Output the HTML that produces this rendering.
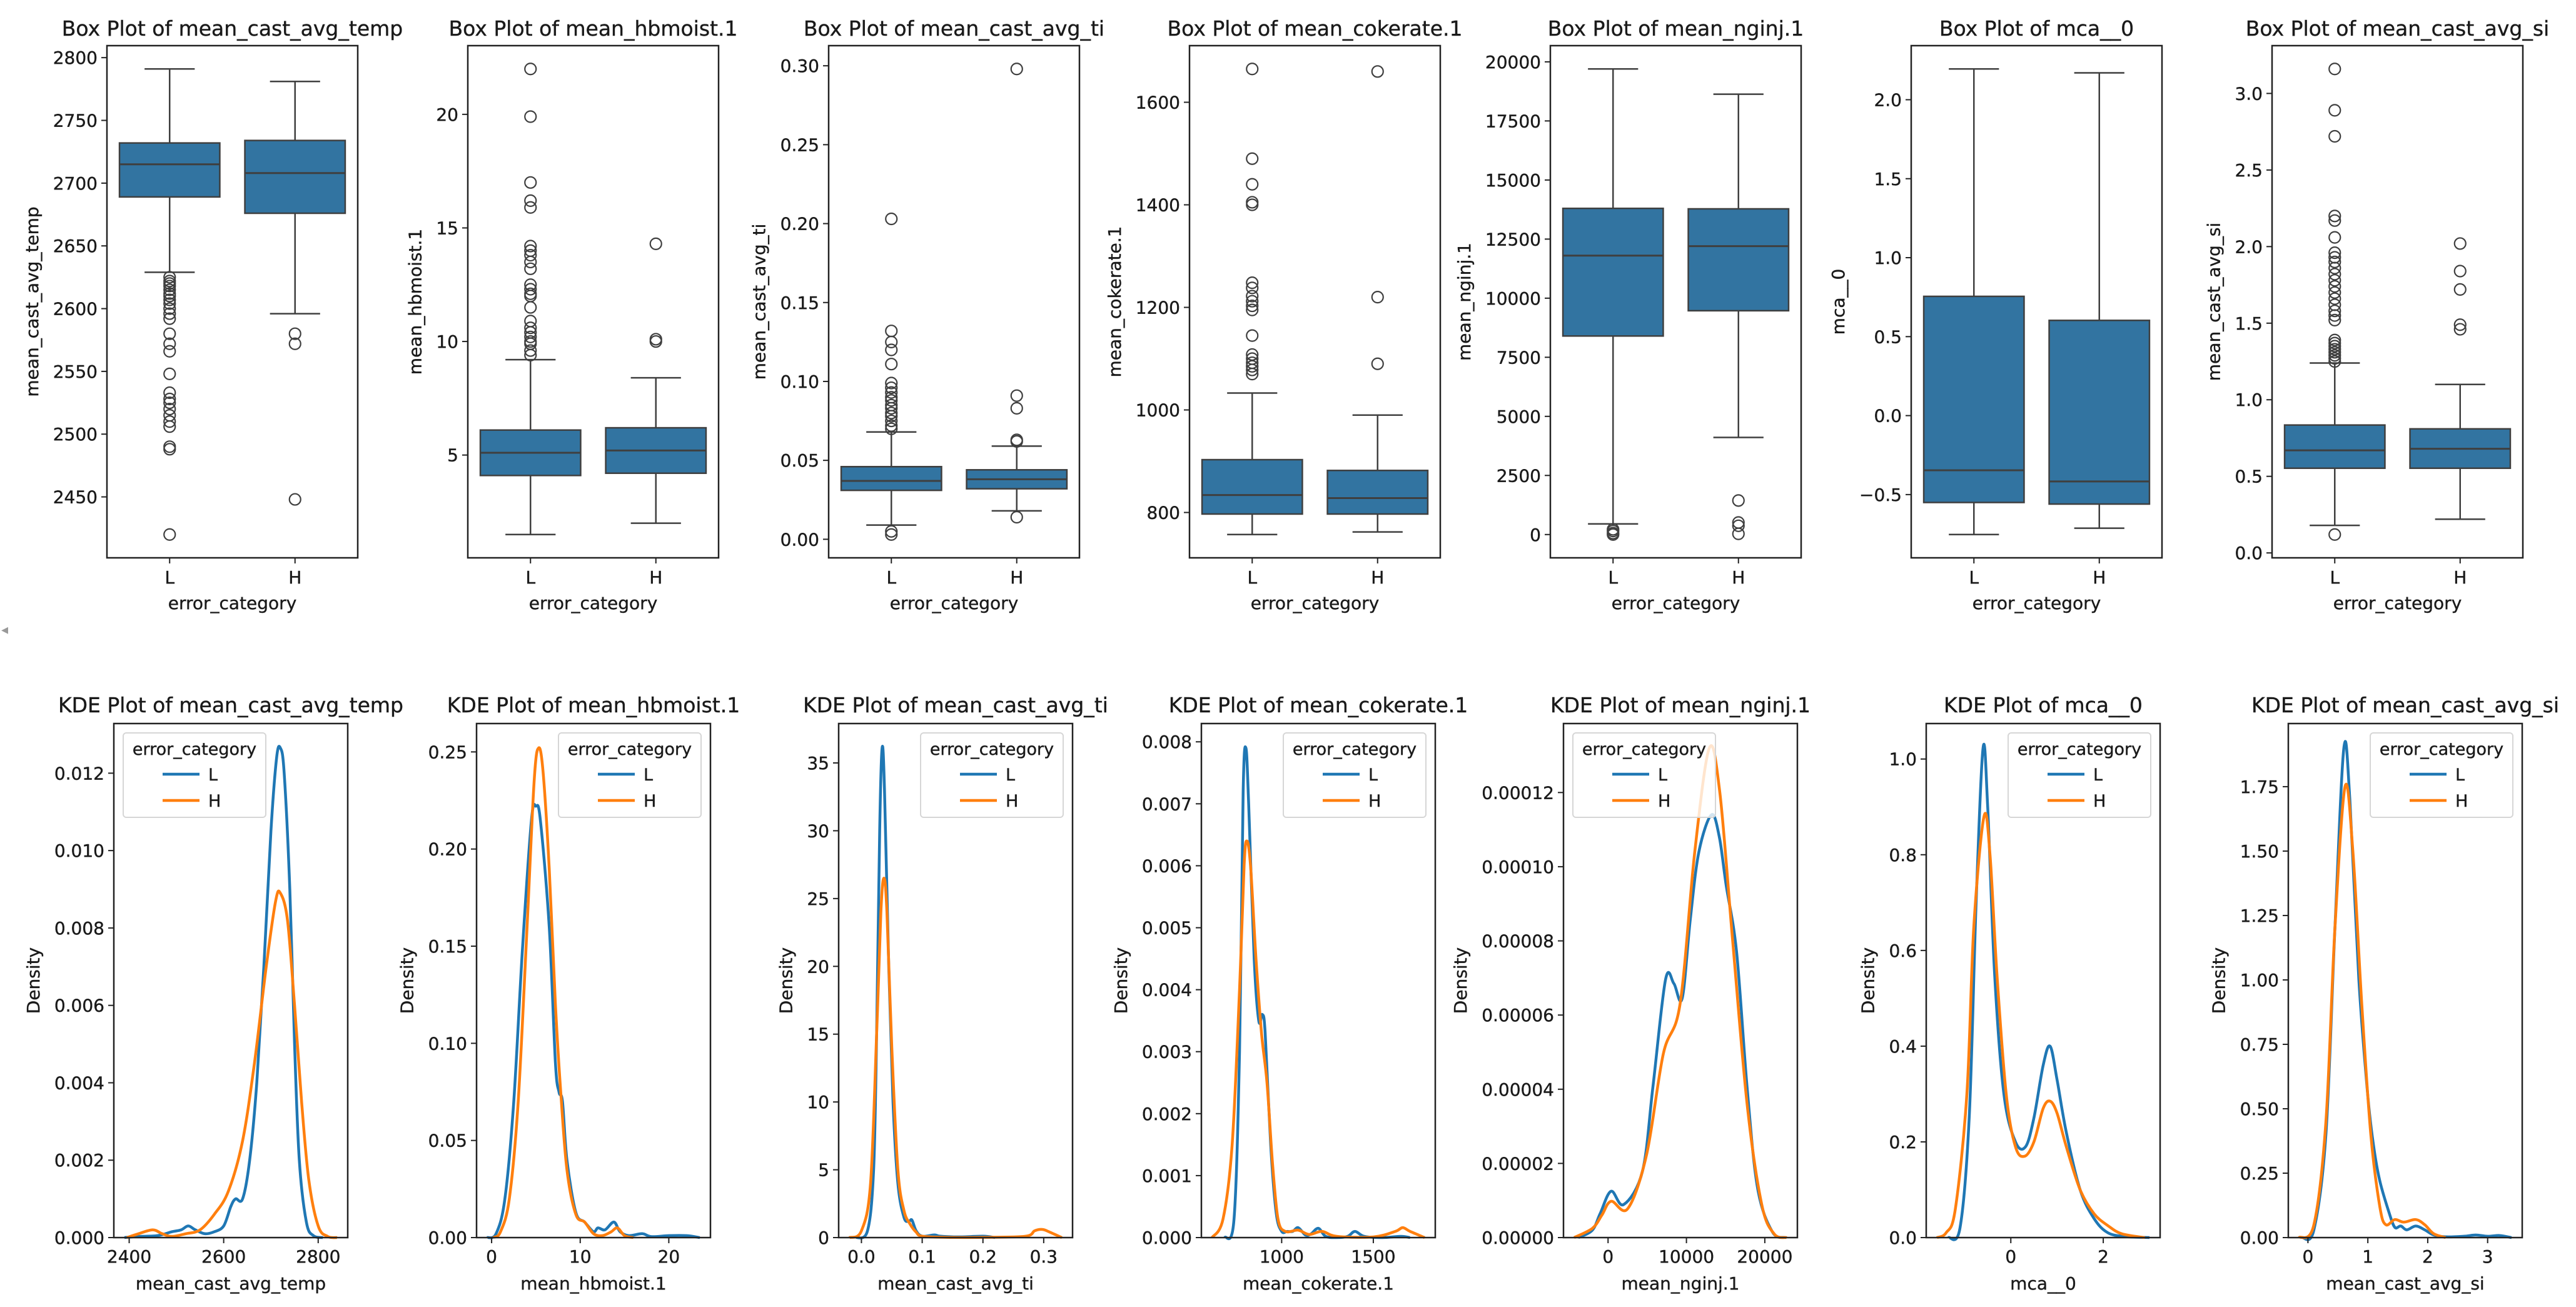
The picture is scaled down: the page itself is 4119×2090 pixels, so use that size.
<!DOCTYPE html>
<html><head><meta charset="utf-8"><style>
html,body{margin:0;padding:0;background:#fff;}
svg{display:block;font-family:"DejaVu Sans","Liberation Sans",sans-serif;}
svg text{stroke:#1a1a1a;stroke-width:0.4px;}
</style></head><body>
<svg id="fig" width="4119" height="2090" viewBox="0 0 4119 2090" xmlns="http://www.w3.org/2000/svg">
<rect width="4119" height="2090" fill="#fff"/>
<text x="2" y="1014" font-size="22" fill="#999" style="stroke:none">◂</text>
</svg>
<script>
// ===== Box plot data: [whiskerLow, Q1, median, Q3, whiskerHigh] =====
const boxCategories = ["L", "H"];
const boxTempL = [2629, 2689, 2715, 2732, 2791];
const boxTempH = [2596, 2676, 2708, 2734, 2781];
const boxTempLOut = [2625,2622,2620,2618,2615,2612,2610,2607,2604,2600,2596,2592,2580,2572,2566,2548,2533,2528,2525,2520,2515,2510,2506,2490,2488,2420];
const boxTempHOut = [2580, 2572, 2448];
const boxHbL = [1.5, 4.1, 5.1, 6.1, 9.2];
const boxHbH = [2.0, 4.2, 5.2, 6.2, 8.4];
const boxHbLOut = [9.4,9.6,9.9,10.0,10.2,10.4,10.6,10.9,11.5,12.0,12.1,12.3,12.5,13.2,13.5,13.8,14.0,14.2,15.9,16.2,17.0,19.9,22.0];
const boxHbHOut = [10.0, 10.1, 14.3];
const boxTiL = [0.009, 0.031, 0.037, 0.046, 0.068];
const boxTiH = [0.018, 0.032, 0.038, 0.044, 0.059];
const boxTiLOut = [0.070,0.072,0.075,0.078,0.080,0.083,0.085,0.088,0.090,0.093,0.096,0.099,0.111,0.120,0.125,0.132,0.203,0.003,0.005];
const boxTiHOut = [0.062, 0.063, 0.083, 0.091, 0.298, 0.014];
const boxCokeL = [757, 797, 834, 903, 1033];
const boxCokeH = [762, 797, 828, 882, 990];
const boxCokeLOut = [1070,1078,1085,1092,1100,1108,1145,1195,1203,1212,1222,1238,1248,1400,1405,1440,1490,1665];
const boxCokeHOut = [1090, 1220, 1660];
const boxNgL = [450, 8400, 11800, 13800, 19700];
const boxNgH = [4110, 9470, 12200, 13780, 18630];
const boxNgLOut = [0, 60, 150, 220];
const boxNgHOut = [1440, 510, 370, 30];
const boxMcaL = [-0.753, -0.55, -0.346, 0.755, 2.195];
const boxMcaH = [-0.713, -0.56, -0.417, 0.603, 2.17];
const boxMcaLOut = [];
const boxMcaHOut = [];
const boxSiL = [0.18, 0.553, 0.67, 0.835, 1.24];
const boxSiH = [0.22, 0.553, 0.68, 0.81, 1.10];
const boxSiLOut = [0.12,1.25,1.27,1.29,1.31,1.33,1.35,1.37,1.39,1.52,1.55,1.58,1.62,1.66,1.70,1.74,1.78,1.82,1.86,1.90,1.93,1.96,2.06,2.17,2.20,2.72,2.89,3.16];
const boxSiHOut = [1.46, 1.49, 1.72, 1.84, 2.02];

// ===== Box y ticks =====
const boxTempTicks = [2450,2500,2550,2600,2650,2700,2750,2800];
const boxTempTickLabels = ["2450","2500","2550","2600","2650","2700","2750","2800"];
const boxHbTicks = [5,10,15,20];
const boxHbTickLabels = ["5","10","15","20"];
const boxTiTicks = [0,0.05,0.10,0.15,0.20,0.25,0.30];
const boxTiTickLabels = ["0.00","0.05","0.10","0.15","0.20","0.25","0.30"];
const boxCokeTicks = [800,1000,1200,1400,1600];
const boxCokeTickLabels = ["800","1000","1200","1400","1600"];
const boxNgTicks = [0,2500,5000,7500,10000,12500,15000,17500,20000];
const boxNgTickLabels = ["0","2500","5000","7500","10000","12500","15000","17500","20000"];
const boxMcaTicks = [-0.5,0,0.5,1.0,1.5,2.0];
const boxMcaTickLabels = ["\u22120.5","0.0","0.5","1.0","1.5","2.0"];
const boxSiTicks = [0,0.5,1.0,1.5,2.0,2.5,3.0];
const boxSiTickLabels = ["0.0","0.5","1.0","1.5","2.0","2.5","3.0"];

// ===== KDE data: x values and densities =====
const kdeTempLx = [2390,2420,2460,2490,2510,2525,2540,2560,2580,2600,2615,2625,2640,2655,2670,2685,2700,2712,2720,2728,2740,2750,2760,2775,2790,2810];
const kdeTempLy = [0,0.00003,0.00005,0.00015,0.0002,0.0003,0.0002,0.0001,0.00015,0.0003,0.0008,0.001,0.001,0.002,0.004,0.007,0.0105,0.0124,0.01265,0.012,0.009,0.005,0.002,0.0004,0.00005,0];
const kdeTempHx = [2395,2420,2450,2470,2490,2520,2550,2580,2610,2640,2665,2690,2710,2720,2735,2750,2765,2780,2800,2820,2840];
const kdeTempHy = [0,0.0001,0.0002,0.0001,0.00003,0.0001,0.0002,0.0006,0.0012,0.0025,0.0045,0.007,0.0087,0.0089,0.0082,0.006,0.0035,0.0015,0.0003,0.00003,0];
const kdeHbLx = [-0.5,0.5,1.5,2.5,3.5,4.5,5,5.5,6.5,7.2,7.6,8,8.5,9.5,10.5,11.5,12,12.8,13.8,14.5,15.5,17,18,20,22,23.5];
const kdeHbLy = [0,0.002,0.02,0.07,0.15,0.215,0.222,0.215,0.16,0.09,0.075,0.07,0.04,0.013,0.008,0.003,0.005,0.004,0.008,0.003,0.001,0.002,0.0005,0.001,0.001,0];
const kdeHbHx = [0.2,1,2,3,4,4.8,5.3,5.8,6.5,7.2,7.8,8.5,9.5,10.5,11.5,12.5,13.5,14.2,15,16];
const kdeHbHy = [0,0.003,0.02,0.07,0.16,0.235,0.252,0.24,0.19,0.12,0.075,0.035,0.012,0.008,0.002,0.001,0.003,0.005,0.001,0];
const kdeTiLx = [-0.01,0.01,0.02,0.025,0.03,0.034,0.038,0.045,0.052,0.06,0.07,0.078,0.083,0.09,0.1,0.12,0.13,0.16,0.2,0.22];
const kdeTiLy = [0,0.5,5,15,30,36.1,33,20,10,4,1.5,1.2,1.3,0.5,0.1,0.2,0.1,0.05,0.1,0];
const kdeTiHx = [-0.02,0,0.015,0.025,0.032,0.037,0.042,0.05,0.06,0.07,0.08,0.09,0.1,0.14,0.2,0.27,0.285,0.298,0.31,0.33];
const kdeTiHy = [0,0.5,4,15,24,26.5,24,14,5,2,1,0.4,0.1,0.02,0.02,0.1,0.5,0.6,0.4,0];
const kdeCokeLx = [690,740,770,790,805,820,850,875,895,910,940,970,1000,1030,1060,1090,1130,1160,1200,1240,1300,1360,1400,1450,1550,1650,1700];
const kdeCokeLy = [0,0.0003,0.003,0.0072,0.0079,0.007,0.0045,0.0035,0.0036,0.0033,0.0015,0.0004,0.0001,0.0001,0.0001,0.00016,0.00004,0.00006,0.00015,0.00002,0,0.00002,0.0001,0.00002,0,0.00002,0];
const kdeCokeHx = [620,680,730,770,795,810,830,860,890,920,950,980,1020,1090,1150,1220,1300,1500,1620,1660,1700,1780];
const kdeCokeHy = [0,0.0003,0.0015,0.004,0.006,0.0064,0.006,0.0045,0.0033,0.0025,0.0012,0.0003,0.0001,0.00012,0.00005,0.0001,0.00002,0.00001,0.0001,0.00016,0.0001,0];
const kdeNgLx = [-3800,-2000,-1000,386,1990,4390,5720,7330,8400,9460,10500,11590,13190,14200,15070,16400,17740,19070,20950,22600];
const kdeNgLy = [0,0.000002,0.0000065,0.0000125,0.0000089,0.0000179,0.0000405,0.0000695,0.0000685,0.0000645,0.000086,0.000104,0.000114,0.000108,0.000095,0.000077,0.0000405,0.0000134,0.0000016,0];
const kdeNgHx = [-4330,-2000,-800,386,2520,4920,7060,9190,11060,12920,14260,15860,17740,19600,21200,22800];
const kdeNgHy = [0,0.0000025,0.000006,0.0000098,0.0000078,0.0000224,0.0000496,0.000063,0.000104,0.000132,0.00012,0.000081,0.000036,0.000009,0.000001,0];
const kdeMcaLx = [-1.35,-1.1,-0.9,-0.75,-0.6,-0.5,-0.35,-0.15,0.1,0.32,0.5,0.7,0.85,1.0,1.2,1.5,1.8,2.1,2.5,3.0];
const kdeMcaLy = [0,0.02,0.25,0.7,1.023,0.9,0.55,0.3,0.2,0.19,0.25,0.36,0.4,0.33,0.22,0.1,0.04,0.01,0.002,0];
const kdeMcaHx = [-1.6,-1.4,-1.2,-0.95,-0.8,-0.58,-0.45,-0.3,-0.1,0.1,0.3,0.5,0.7,0.85,1.0,1.2,1.5,1.8,2.1,2.4,2.9];
const kdeMcaHy = [0,0.01,0.06,0.3,0.65,0.88,0.8,0.55,0.3,0.19,0.17,0.2,0.27,0.285,0.26,0.19,0.1,0.05,0.025,0.008,0];
const kdeSiLx = [-0.1,0.1,0.3,0.45,0.6,0.7,0.85,1.0,1.1,1.2,1.35,1.45,1.55,1.65,1.8,1.95,2.1,2.3,2.6,2.8,3.0,3.2,3.4];
const kdeSiLy = [0,0.03,0.4,1.2,1.9,1.7,1.0,0.55,0.35,0.22,0.1,0.04,0.045,0.03,0.045,0.03,0.01,0.003,0.005,0.01,0.005,0.008,0];
const kdeSiHx = [-0.15,0.1,0.3,0.45,0.62,0.75,0.9,1.05,1.2,1.3,1.45,1.6,1.8,1.95,2.1,2.3];
const kdeSiHy = [0,0.05,0.45,1.2,1.75,1.5,0.9,0.4,0.12,0.05,0.07,0.06,0.07,0.05,0.015,0];

// ===== KDE ticks =====
const kdeTempXTicks = [2400,2600,2800];
const kdeTempXLabels = ["2400","2600","2800"];
const kdeTempYTicks = [0,0.002,0.004,0.006,0.008,0.010,0.012];
const kdeTempYLabels = ["0.000","0.002","0.004","0.006","0.008","0.010","0.012"];
const kdeHbXTicks = [0,10,20];
const kdeHbXLabels = ["0","10","20"];
const kdeHbYTicks = [0,0.05,0.10,0.15,0.20,0.25];
const kdeHbYLabels = ["0.00","0.05","0.10","0.15","0.20","0.25"];
const kdeTiXTicks = [0,0.1,0.2,0.3];
const kdeTiXLabels = ["0.0","0.1","0.2","0.3"];
const kdeTiYTicks = [0,5,10,15,20,25,30,35];
const kdeTiYLabels = ["0","5","10","15","20","25","30","35"];
const kdeCokeXTicks = [1000,1500];
const kdeCokeXLabels = ["1000","1500"];
const kdeCokeYTicks = [0,0.001,0.002,0.003,0.004,0.005,0.006,0.007,0.008];
const kdeCokeYLabels = ["0.000","0.001","0.002","0.003","0.004","0.005","0.006","0.007","0.008"];
const kdeNgXTicks = [0,10000,20000];
const kdeNgXLabels = ["0","10000","20000"];
const kdeNgYTicks = [0,0.00002,0.00004,0.00006,0.00008,0.00010,0.00012];
const kdeNgYLabels = ["0.00000","0.00002","0.00004","0.00006","0.00008","0.00010","0.00012"];
const kdeMcaXTicks = [0,2];
const kdeMcaXLabels = ["0","2"];
const kdeMcaYTicks = [0,0.2,0.4,0.6,0.8,1.0];
const kdeMcaYLabels = ["0.0","0.2","0.4","0.6","0.8","1.0"];
const kdeSiXTicks = [0,1,2,3];
const kdeSiXLabels = ["0","1","2","3"];
const kdeSiYTicks = [0,0.25,0.5,0.75,1.0,1.25,1.5,1.75];
const kdeSiYLabels = ["0.00","0.25","0.50","0.75","1.00","1.25","1.50","1.75"];

const NS = "http://www.w3.org/2000/svg";
const svg = document.getElementById("fig");
const TICK_FS = 28, LABEL_FS = 28, TITLE_FS = 33;
const BOX_FILL = "#3274a1", EDGE = "#3f3f3f";
const C_L = "#1f77b4", C_H = "#ff7f0e";

function el(tag, attrs, parent) {
  const e = document.createElementNS(NS, tag);
  for (const k in attrs) e.setAttribute(k, attrs[k]);
  (parent || svg).appendChild(e);
  return e;
}
function textW(s, fs) {
  let w = 0;
  for (const c of s) w += (c === "." ? 0.318 : c === "\u2212" ? 0.838 : 0.636);
  return w * fs;
}
function txt(x, y, s, fs, anchor, parent, rot) {
  const t = el("text", {x: x, y: y, "font-size": fs, "text-anchor": anchor || "middle", fill: "#1a1a1a"}, parent);
  if (rot) t.setAttribute("transform", "rotate(-90 " + x + " " + y + ")");
  t.textContent = s;
  return t;
}
function limits(vals, pad) {
  const mn = Math.min(...vals), mx = Math.max(...vals);
  const r = mx - mn;
  return [mn - r * pad, mx + r * pad];
}
function smoothPath(pts) {
  let d = "M" + pts[0][0].toFixed(1) + " " + pts[0][1].toFixed(1);
  for (let k = 0; k < pts.length - 1; k++) {
    const p0 = pts[Math.max(0, k - 1)], p1 = pts[k], p2 = pts[k + 1], p3 = pts[Math.min(pts.length - 1, k + 2)];
    const c1x = p1[0] + (p2[0] - p0[0]) / 6, c1y = p1[1] + (p2[1] - p0[1]) / 6;
    const c2x = p2[0] - (p3[0] - p1[0]) / 6, c2y = p2[1] - (p3[1] - p1[1]) / 6;
    d += " C" + c1x.toFixed(1) + " " + c1y.toFixed(1) + " " + c2x.toFixed(1) + " " + c2y.toFixed(1) + " " + p2[0].toFixed(1) + " " + p2[1].toFixed(1);
  }
  return d;
}
function yAxis(g, L, T, B, ticks, labels, y, name, fs) {
  let maxW = 0;
  ticks.forEach((v, i) => {
    const py = y(v);
    const tk = el("line", {x1: L - 9, x2: L, y1: py, y2: py, stroke: "#222", "stroke-width": 2}, g);
    
    
    const t = txt(L - 15, py + 10, labels[i], fs, "end", g);
    
    
    maxW = Math.max(maxW, textW(labels[i], fs));
  });
  const yl = txt(L - 17 - maxW - 22, (T + B) / 2, name, LABEL_FS, "middle", g, true);
  
  
}
function frame(g, L, T, R, B) {
  const f = el("rect", {x: L, y: T, width: R - L, height: B - T, fill: "none", stroke: "#222", "stroke-width": 2.5}, g);
  
  
}

function drawBox(i, title, ylabel, groups, outliers, ticks, labels) {
  const L = 171 + i * 577, R = L + 401, T = 73, B = 892;
  const g = el("g", {});
  
  
  const all = [].concat(...groups, ...outliers);
  const [y0, y1] = limits(all, 0.05);
  const y = v => B - (v - y0) / (y1 - y0) * (B - T);
  const x = c => L + (c + 0.5) / 2 * (R - L);
  const half = (R - L) / 2 * 0.4;
  groups.forEach((s, c) => {
    const cx = x(c);
    const w1 = el("line", {x1: cx, x2: cx, y1: y(s[0]), y2: y(s[1]), stroke: EDGE, "stroke-width": 2.5}, g);
    
    
    const w2 = el("line", {x1: cx, x2: cx, y1: y(s[3]), y2: y(s[4]), stroke: EDGE, "stroke-width": 2.5}, g);
    
    
    [s[0], s[4]].forEach(v => {
      const cap = el("line", {x1: cx - half / 2, x2: cx + half / 2, y1: y(v), y2: y(v), stroke: EDGE, "stroke-width": 2.5}, g);
      
      
    });
    const box = el("rect", {x: cx - half, y: y(s[3]), width: half * 2, height: y(s[1]) - y(s[3]), fill: BOX_FILL, stroke: EDGE, "stroke-width": 2.5}, g);
    
    
    const md = el("line", {x1: cx - half, x2: cx + half, y1: y(s[2]), y2: y(s[2]), stroke: EDGE, "stroke-width": 3}, g);
    
    
    outliers[c].forEach(v => {
      const o = el("circle", {cx: cx, cy: y(v), r: 9, fill: "none", stroke: EDGE, "stroke-width": 2.2}, g);
      
      
    });
    const tk = el("line", {x1: cx, x2: cx, y1: B, y2: B + 9, stroke: "#222", "stroke-width": 2}, g);
    
    
    const tl = txt(cx, 933, boxCategories[c], TICK_FS, "middle", g);
    
    
  });
  frame(g, L, T, R, B);
  yAxis(g, L, T, B, ticks, labels, y, ylabel, TICK_FS);
  const xl = txt((L + R) / 2, 974, "error_category", LABEL_FS, "middle", g);
  
  
  const tt = txt((L + R) / 2, 57, title, TITLE_FS, "middle", g);
  
  
}

function drawKde(i, title, xlabel, lx, ly, hx, hy, xt, xtl, yt, ytl, legendLeft) {
  const L = Math.round(182 + i * 579.5), R = L + 374, T = 1157, B = 1979;
  const g = el("g", {});
  
  
  const [x0, x1] = limits(lx.concat(hx), 0.05);
  const ymax = Math.max(...ly, ...hy) * 1.05;
  const x = v => L + (v - x0) / (x1 - x0) * (R - L);
  const y = v => B - v / ymax * (B - T);
  [[lx, ly, C_L, "L"], [hx, hy, C_H, "H"]].forEach(([xs, ys, col, nm]) => {
    const pts = xs.map((v, k) => [x(v), Math.min(B, y(ys[k]))]);
    const p = el("path", {d: smoothPath(pts), fill: "none", stroke: col, "stroke-width": 4.5, "stroke-linejoin": "round"}, g);
    
    
  });
  frame(g, L, T, R, B);
  xt.forEach((v, k) => {
    const tk = el("line", {x1: x(v), x2: x(v), y1: B, y2: B + 9, stroke: "#222", "stroke-width": 2}, g);
    
    
    const tl = txt(x(v), 2019, xtl[k], TICK_FS, "middle", g);
    
    
  });
  yAxis(g, L, T, B, yt, ytl, y, "Density", TICK_FS);
  const xl = txt((L + R) / 2, 2062, xlabel, LABEL_FS, "middle", g);
  
  
  const tt = txt((L + R) / 2, 1139, title, TITLE_FS, "middle", g);
  
  
  // legend
  const lgW = 228, lgH = 135;
  const lgX = legendLeft ? L + 15 : R - 15 - lgW, lgY = T + 15;
  const lg = el("g", {}, g);
  
  
  el("rect", {x: lgX, y: lgY, width: lgW, height: lgH, rx: 5, fill: "#fff", "fill-opacity": 0.8, stroke: "#d6d6d6", "stroke-width": 2}, lg);
  const lt = txt(lgX + lgW / 2, lgY + 35, "error_category", 27, "middle", lg);
  
  
  [["L", C_L, 66], ["H", C_H, 108]].forEach(([nm, col, dy]) => {
    const e = el("g", {}, lg);
    
    
    el("line", {x1: lgX + 63, x2: lgX + 122, y1: lgY + dy, y2: lgY + dy, stroke: col, "stroke-width": 4.5}, e);
    txt(lgX + 136, lgY + dy + 10, nm, 27, "start", e);
  });
}

drawBox(0, "Box Plot of mean_cast_avg_temp", "mean_cast_avg_temp", [boxTempL, boxTempH], [boxTempLOut, boxTempHOut], boxTempTicks, boxTempTickLabels);
drawBox(1, "Box Plot of mean_hbmoist.1", "mean_hbmoist.1", [boxHbL, boxHbH], [boxHbLOut, boxHbHOut], boxHbTicks, boxHbTickLabels);
drawBox(2, "Box Plot of mean_cast_avg_ti", "mean_cast_avg_ti", [boxTiL, boxTiH], [boxTiLOut, boxTiHOut], boxTiTicks, boxTiTickLabels);
drawBox(3, "Box Plot of mean_cokerate.1", "mean_cokerate.1", [boxCokeL, boxCokeH], [boxCokeLOut, boxCokeHOut], boxCokeTicks, boxCokeTickLabels);
drawBox(4, "Box Plot of mean_nginj.1", "mean_nginj.1", [boxNgL, boxNgH], [boxNgLOut, boxNgHOut], boxNgTicks, boxNgTickLabels);
drawBox(5, "Box Plot of mca__0", "mca__0", [boxMcaL, boxMcaH], [boxMcaLOut, boxMcaHOut], boxMcaTicks, boxMcaTickLabels);
drawBox(6, "Box Plot of mean_cast_avg_si", "mean_cast_avg_si", [boxSiL, boxSiH], [boxSiLOut, boxSiHOut], boxSiTicks, boxSiTickLabels);

drawKde(0, "KDE Plot of mean_cast_avg_temp", "mean_cast_avg_temp", kdeTempLx, kdeTempLy, kdeTempHx, kdeTempHy, kdeTempXTicks, kdeTempXLabels, kdeTempYTicks, kdeTempYLabels, true);
drawKde(1, "KDE Plot of mean_hbmoist.1", "mean_hbmoist.1", kdeHbLx, kdeHbLy, kdeHbHx, kdeHbHy, kdeHbXTicks, kdeHbXLabels, kdeHbYTicks, kdeHbYLabels, false);
drawKde(2, "KDE Plot of mean_cast_avg_ti", "mean_cast_avg_ti", kdeTiLx, kdeTiLy, kdeTiHx, kdeTiHy, kdeTiXTicks, kdeTiXLabels, kdeTiYTicks, kdeTiYLabels, false);
drawKde(3, "KDE Plot of mean_cokerate.1", "mean_cokerate.1", kdeCokeLx, kdeCokeLy, kdeCokeHx, kdeCokeHy, kdeCokeXTicks, kdeCokeXLabels, kdeCokeYTicks, kdeCokeYLabels, false);
drawKde(4, "KDE Plot of mean_nginj.1", "mean_nginj.1", kdeNgLx, kdeNgLy, kdeNgHx, kdeNgHy, kdeNgXTicks, kdeNgXLabels, kdeNgYTicks, kdeNgYLabels, true);
drawKde(5, "KDE Plot of mca__0", "mca__0", kdeMcaLx, kdeMcaLy, kdeMcaHx, kdeMcaHy, kdeMcaXTicks, kdeMcaXLabels, kdeMcaYTicks, kdeMcaYLabels, false);
drawKde(6, "KDE Plot of mean_cast_avg_si", "mean_cast_avg_si", kdeSiLx, kdeSiLy, kdeSiHx, kdeSiHy, kdeSiXTicks, kdeSiXLabels, kdeSiYTicks, kdeSiYLabels, false);
</script>
</body></html>
